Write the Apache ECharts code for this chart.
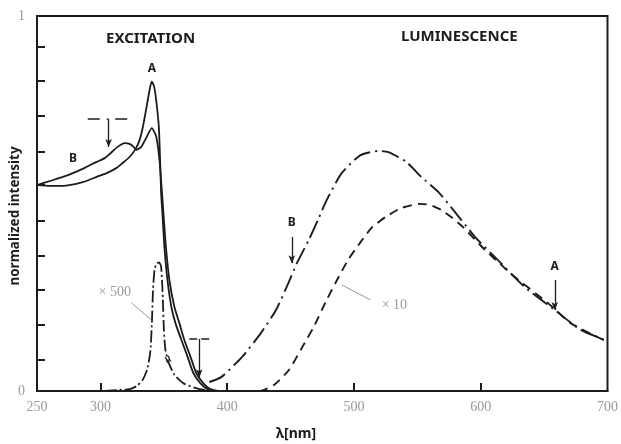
<!DOCTYPE html>
<html>
<head>
<meta charset="utf-8">
<script src="https://cdn.jsdelivr.net/npm/echarts@6/dist/echarts.min.js"></script>
<style>
  html, body { margin: 0; padding: 0; background: #fff; }
  #chart { width: 621px; height: 444px; }
</style>
</head>
<body>
<div id="chart"></div>
<script>
// ── data (wavelength nm / normalized intensity) ─────────────
const excAx = [250, 260.2, 270.4, 286.1, 297.1, 305.0, 312.8, 317.5, 323.0, 327.7,
               330.9, 333.5, 337.4, 339.1, 340.5, 342.3, 344.0, 346.1, 347.1, 347.9,
               348.9, 350.5, 352.9, 356.0, 359.2, 363.9, 368.6, 373.3, 378.8, 384.3, 389.8];
const excAy = [0.549, 0.547, 0.547, 0.557, 0.571, 0.581, 0.595, 0.608, 0.624, 0.645,
               0.669, 0.704, 0.776, 0.808, 0.825, 0.813, 0.776, 0.704, 0.616, 0.528,
               0.475, 0.384, 0.296, 0.224, 0.181, 0.136, 0.093, 0.048, 0.021, 0.005, 0];

const excBx = [250, 260.2, 270.4, 278.3, 287.7, 297.1, 303.4, 307.3, 313.6, 319.1,
               323.0, 326.2, 328.3, 332.2, 336.1, 340.5, 344.0, 346.6, 348.6, 349.7,
               351.7, 354.4, 358.4, 362.3, 366.2, 370.9, 375.6, 381.1, 386.6, 392.9];
const excBy = [0.549, 0.560, 0.571, 0.581, 0.595, 0.611, 0.621, 0.632, 0.651, 0.661,
               0.659, 0.651, 0.643, 0.651, 0.675, 0.701, 0.679, 0.616, 0.528, 0.475,
               0.384, 0.296, 0.224, 0.181, 0.136, 0.093, 0.048, 0.021, 0.005, 0];

// excitation x500
const x500x = [303.4, 315.2, 323.0, 328.5, 333.2, 337.2, 339.5, 340.7, 341.5, 342.7,
               344.2, 346.2, 347.8, 348.6, 349.3, 350.1, 351.3, 353.7, 358.4, 366.2, 378.0, 389.8];
const x500y = [0, 0.003, 0.005, 0.013, 0.029, 0.061, 0.109, 0.189, 0.269, 0.323,
               0.339, 0.343, 0.333, 0.296, 0.243, 0.163, 0.109, 0.077, 0.043, 0.019, 0.005, 0];

const lumBx = [385.9, 395.3, 411.8, 426.7, 438.5, 448.7, 455.0, 464.4, 472.2, 478.5,
               490.3, 505.2, 519.4, 527.2, 541.3, 553.1, 566.5, 578.3, 595.5, 613.6,
               634.8, 658.4, 678.8, 697.6, 700];
const lumBy = [0.024, 0.037, 0.091, 0.155, 0.216, 0.291, 0.341, 0.403, 0.461, 0.509,
               0.581, 0.629, 0.640, 0.637, 0.611, 0.571, 0.531, 0.483, 0.411, 0.349,
               0.277, 0.216, 0.163, 0.136, 0.131];

const lumAx = [413.3, 425.1, 436.9, 448.7, 458.9, 468.3, 478.5, 487.9, 495.8, 505.2,
               513.9, 524.9, 537.4, 552.3, 560.2, 568.8, 576.7, 586.1, 603.4, 626.9,
               652.9, 670.9, 692.1, 700];
const lumAy = [0, 0, 0.016, 0.056, 0.115, 0.171, 0.243, 0.304, 0.352, 0.397,
               0.435, 0.464, 0.488, 0.499, 0.496, 0.483, 0.464, 0.437, 0.376, 0.304,
               0.235, 0.181, 0.144, 0.131];

// ── axis ticks / labels ─────────────────────────────────────
const xLabels = [250, 300, 400, 500, 600, 700];
const xTicks  = [300, 400, 500, 600];
const yLabels = [0, 1];
const yTicks  = [0.083, 0.176, 0.269, 0.360, 0.453, 0.549, 0.637, 0.733, 0.827, 0.917];

// ── annotations (data coords) ───────────────────────────────
const texts = [
  { name: 'A',     x: 340.7, y: 0.861 },
  { name: 'B',     x: 278.3, y: 0.621 },
  { name: 'B',     x: 451.0, y: 0.448 },
  { name: 'A',     x: 658.4, y: 0.331 },
];
const grayTexts = [
  { name: '× 500', x: 311.3, y: 0.264 },
  { name: '× 10',  x: 531.9, y: 0.229 },
];
const arrows = [
  [306.5, 0.725, 306.5, 0.651],
  [378.0, 0.139, 378.0, 0.037],
  [451.0, 0.411, 451.0, 0.341],
  [658.4, 0.296, 658.4, 0.216],
];
const dashDotMark = [290.0, 0.725, 323.0, 0.725];
const dashMark    = [370.1, 0.139, 387.4, 0.139];
const leaders = [
  [324.6, 0.235, 340.3, 0.189],
  [490.3, 0.283, 513.1, 0.243],
];

const zip = (xs, ys) => xs.map((x, i) => [x, ys[i]]);
const INK = '#1c1c1c';
const GRAY = '#999';

const chart = echarts.init(document.getElementById('chart'), null, { renderer: 'canvas' });

// 標記線：箭頭、水平記號、灰色引線
const markLines = [];
for (const a of arrows) {
  markLines.push([
    { coord: [a[0], a[1]], symbol: 'none', lineStyle: { color: INK, width: 1.3, type: 'solid' } },
    { coord: [a[2], a[3]], symbol: 'arrow', symbolSize: [5, 8] }
  ]);
}
markLines.push([
  { coord: [dashDotMark[0], dashDotMark[1]],
    lineStyle: { color: INK, width: 1.6, type: [12, 7, 1.5, 7] } },
  { coord: [dashDotMark[2], dashDotMark[3]] }
]);
markLines.push([
  { coord: [dashMark[0], dashMark[1]],
    lineStyle: { color: INK, width: 1.6, type: [8, 4] } },
  { coord: [dashMark[2], dashMark[3]] }
]);
for (const l of leaders) {
  markLines.push([
    { coord: [l[0], l[1]], lineStyle: { color: GRAY, width: 1, type: 'solid' } },
    { coord: [l[2], l[3]] }
  ]);
}

const markPts = texts.map(t => ({
  coord: [t.x, t.y], name: t.name,
  label: { color: INK, fontSize: 12, fontWeight: 'bold', fontFamily: 'Noto Sans' }
})).concat(grayTexts.map(t => ({
  coord: [t.x, t.y], name: t.name,
  label: { color: GRAY, fontSize: 14, fontFamily: 'Liberation Serif' }
}))).concat([{
  coord: [352.9, 0.083], name: '≈',
  label: { color: INK, fontSize: 13, fontWeight: 'bold', rotate: -60 }
}]);

const lineSeries = (name, data, type, width) => ({
  name, type: 'line', data, showSymbol: false, smooth: 0.2,
  lineStyle: { color: INK, width: width || 1.8, type: type || 'solid' },
  silent: true, z: 3
});

chart.setOption({
  animation: false,
  backgroundColor: '#fff',
  grid: { left: 37, right: 11, top: 16, bottom: 53, show: true,
          borderColor: INK, borderWidth: 2, backgroundColor: 'transparent' },
  xAxis: {
    type: 'value', min: 250, max: 700,
    axisLine: { lineStyle: { color: INK, width: 2 } },
    axisTick: { inside: true, length: 8, customValues: xTicks, lineStyle: { color: INK, width: 2 } },
    axisLabel: { customValues: xLabels, color: GRAY, fontSize: 14,
                 fontFamily: 'Liberation Serif', margin: 9 },
    splitLine: { show: false }
  },
  yAxis: {
    type: 'value', min: 0, max: 1,
    axisLine: { show: true, lineStyle: { color: INK, width: 2 } },
    axisTick: { show: true, inside: true, length: 8, customValues: yTicks, lineStyle: { color: INK, width: 2 } },
    axisLabel: { customValues: yLabels, color: GRAY, fontSize: 14,
                 fontFamily: 'Liberation Serif', margin: 12 },
    splitLine: { show: false }
  },
  graphic: [
    { type: 'text', left: 106, top: 31,
      style: { text: 'EXCITATION', fill: INK, font: 'bold 15px "Noto Sans"' } },
    { type: 'text', left: 401, top: 29,
      style: { text: 'LUMINESCENCE', fill: INK, font: 'bold 15px "Noto Sans"' } },
    { type: 'text', left: 276, top: 427,
      style: { text: 'λ[nm]', fill: INK, font: 'bold 14px "Noto Sans"' } },
    { type: 'text', x: 15, y: 216, rotation: Math.PI / 2,
      style: { text: 'normalized intensity', fill: INK, font: 'bold 13.5px "Noto Sans"',
               align: 'center', verticalAlign: 'middle' } }
  ],
  series: [
    lineSeries('exc A', zip(excAx, excAy)),
    lineSeries('exc B', zip(excBx, excBy)),
    lineSeries('exc x500', zip(x500x, x500y), [12, 3, 2, 3], 1.8),
    lineSeries('lum B', zip(lumBx, lumBy), [18, 5, 2, 5], 1.9),
    lineSeries('lum A', zip(lumAx, lumAy), [9, 6], 1.9),
    {
      name: 'annot', type: 'line', data: [], silent: true,
      markLine: { silent: true, animation: false, symbol: ['none', 'none'],
                  label: { show: false }, data: markLines },
      markPoint: {
        silent: true, animation: false, symbol: 'circle', symbolSize: 1,
        itemStyle: { color: 'rgba(0,0,0,0)' },
        label: { show: true, position: 'inside', formatter: p => p.name },
        data: markPts
      }
    }
  ]
});
window.addEventListener('resize', () => chart.resize());
</script>
</body>
</html>
